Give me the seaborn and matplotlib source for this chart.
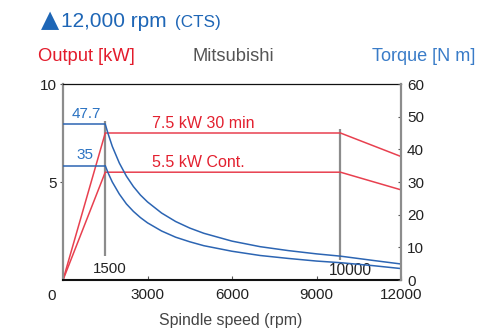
import matplotlib
matplotlib.use('Agg')
import matplotlib.pyplot as plt
import seaborn as sns

# ---------------- data ----------------
speed_power = [0, 1500, 9850, 12000]
power_30min = [0, 7.5, 7.5, 6.3]
power_cont = [0, 5.5, 5.5, 4.6]

speed_flat = [0, 1500]
torque_flat_30min = [47.7, 47.7]
torque_flat_cont = [35.0, 35.0]

torque_speed = [1500, 1600, 1750, 2000, 2250, 2500, 2750, 3000, 3500, 4000,
                4500, 5000, 6000, 7000, 8000, 9000, 9850, 11000, 12000]
torque_30min = [47.7, 44.8, 40.9, 35.8, 31.8, 28.6, 26.0, 23.9, 20.5, 17.9,
                15.9, 14.3, 11.9, 10.2, 9.0, 8.0, 7.3, 6.0, 4.9]
torque_cont = [35.0, 32.8, 30.0, 26.3, 23.3, 21.0, 19.1, 17.5, 15.0, 13.1,
               11.7, 10.5, 8.8, 7.5, 6.6, 5.8, 5.3, 4.4, 3.5]

x_ticks = [0, 3000, 6000, 9000, 12000]
x_ticklabels = ['', '3000', '6000', '9000', '12000']
left_ticks = [5, 10]
right_ticks = [0, 10, 20, 30, 40, 50, 60]
marker_speeds = [1500, 9850]
marker_labels = ['1500', '10000']

# ---------------- style ----------------
sns.set_style('white')
plt.rcParams['font.family'] = ['Liberation Sans', 'DejaVu Sans']

RED = '#e8404f'
RED_TXT = '#e3202f'
BLUE = '#2c65b3'
BLUE_TXT = '#2a72c2'
GRAY = '#8c8c8c'
DARK = '#222222'

W, H = 478, 332
fig = plt.figure(figsize=(W / 100, H / 100), dpi=100)
ax = fig.add_axes([63 / W, 52 / H, 338 / W, 196 / H])
ax2 = ax.twinx()

# gray speed markers
ax.vlines(marker_speeds[0], 1.2, 8.1, color=GRAY, lw=1.6, zorder=1)
ax.vlines(marker_speeds[1], 1.0, 7.7, color=GRAY, lw=1.6, zorder=1)

# output lines
sns.lineplot(x=speed_power, y=power_30min, ax=ax, color=RED, lw=1.1,
             estimator=None, sort=False, legend=False)
sns.lineplot(x=speed_power, y=power_cont, ax=ax, color=RED, lw=1.1,
             estimator=None, sort=False, legend=False)

# torque lines
sns.lineplot(x=speed_flat, y=torque_flat_30min, ax=ax2, color=BLUE, lw=1.1,
             estimator=None, sort=False, legend=False)
sns.lineplot(x=speed_flat, y=torque_flat_cont, ax=ax2, color=BLUE, lw=1.1,
             estimator=None, sort=False, legend=False)
sns.lineplot(x=torque_speed, y=torque_30min, ax=ax2, color=BLUE, lw=1.1,
             estimator=None, sort=False, legend=False)
sns.lineplot(x=torque_speed, y=torque_cont, ax=ax2, color=BLUE, lw=1.1,
             estimator=None, sort=False, legend=False)

ax.set_xlim(0, 12000)
ax.set_ylim(0, 10)
ax2.set_ylim(0, 60)
for a in (ax, ax2):
    a.set_xlabel('')
    a.set_ylabel('')

ax.set_xticks(x_ticks)
ax.set_xticklabels(x_ticklabels)
ax.set_yticks(left_ticks)
ax2.set_yticks(right_ticks)

ax.tick_params(axis='y', left=True, direction='out', length=2.5, width=0.8,
               color='#555555', pad=2, labelsize=11, labelcolor=DARK)
ax.tick_params(axis='x', bottom=True, direction='in', length=3, width=0.8,
               color='#555555', pad=5.5, labelsize=11, labelcolor=DARK)
ax2.tick_params(axis='y', right=True, direction='in', length=2.5, width=0.8,
                color='#555555', pad=4.3, labelsize=11, labelcolor=DARK)

for s in ['top', 'bottom', 'left']:
    ax2.spines[s].set_visible(False)
ax.spines['right'].set_visible(False)
ax.spines['left'].set_color(GRAY)
ax.spines['left'].set_linewidth(1.6)
ax2.spines['right'].set_color(GRAY)
ax2.spines['right'].set_linewidth(1.6)
ax.spines['top'].set_color('#111111')
ax.spines['top'].set_linewidth(0.9)
ax.spines['bottom'].set_color('#111111')
ax.spines['bottom'].set_linewidth(1.5)

# annotations inside plot
ax.text(841, 8.27, '47.7', color=BLUE_TXT, fontsize=11, ha='center', va='baseline')
ax.text(763, 6.17, '35', color=BLUE_TXT, fontsize=11, ha='center', va='baseline')
ax.text(3160, 7.76, '7.5 kW 30 min', color=RED_TXT, fontsize=11.5, ha='left', va='baseline')
ax.text(3160, 5.78, '5.5 kW Cont.', color=RED_TXT, fontsize=11.5, ha='left', va='baseline')
ax.text(1650, 0.37, marker_labels[0], color=DARK, fontsize=10.8, ha='center', va='baseline')
ax.text(10190, 0.255, marker_labels[1], color=DARK, fontsize=11.2, ha='center', va='baseline')

# figure texts
def fy(px):
    return (H - px) / H

fig.text(52 / W, fy(300), '0', color=DARK, fontsize=11, ha='center', va='baseline')
fig.text(50 / W, fy(26.7), '▲', color='#1e66b6', fontsize=17, ha='center', va='baseline',
         family=['DejaVu Sans'])
fig.text(61.5 / W, fy(26.7), '12,000 rpm', color='#1e66b6', fontsize=15, ha='left', va='baseline')
fig.text(175 / W, fy(26.7), '(CTS)', color='#1e66b6', fontsize=12.3, ha='left', va='baseline')
fig.text(38 / W, fy(61), 'Output [kW]', color='#e31b2b', fontsize=13.2, ha='left', va='baseline')
fig.text(192 / W, fy(61), 'Mitsubishi', color='#555555', fontsize=13.2, ha='left', va='baseline')
fig.text(475 / W, fy(61), 'Torque [N m]', color='#3a7cc8', fontsize=13.1, ha='right', va='baseline')
fig.text(231 / W, fy(325.5), 'Spindle speed (rpm)', color='#444444', fontsize=11.4, ha='center', va='baseline')

fig.savefig('out.png', dpi=100)
